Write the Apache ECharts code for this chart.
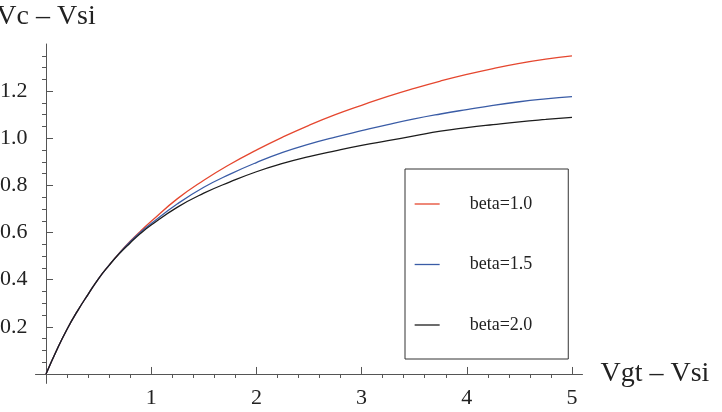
<!DOCTYPE html>
<html>
<head>
<meta charset="utf-8">
<script src="https://cdn.jsdelivr.net/npm/echarts@6/dist/echarts.min.js"></script>
<style>
  html, body { margin: 0; padding: 0; background: #fff; }
  #main { width: 722px; height: 412px; }
</style>
</head>
<body>
<div id="main"></div>
<script>
// values
var xs = [0, 0.1, 0.2, 0.3, 0.4, 0.5, 0.6, 0.7, 0.8, 0.9, 1.0, 1.25, 1.5, 1.75, 2.0, 2.25, 2.5, 2.75, 3.0, 3.25, 3.5, 3.75, 4.0, 4.25, 4.5, 4.75, 5.0];
var beta10 = [0, 0.1, 0.19, 0.268, 0.338, 0.405, 0.462, 0.515, 0.563, 0.607, 0.648, 0.744, 0.822, 0.89, 0.95, 1.005, 1.055, 1.10, 1.14, 1.178, 1.212, 1.243, 1.271, 1.296, 1.318, 1.336, 1.35];
var beta15 = [0, 0.1, 0.19, 0.268, 0.338, 0.405, 0.462, 0.514, 0.561, 0.602, 0.638, 0.722, 0.792, 0.848, 0.897, 0.94, 0.975, 1.005, 1.032, 1.058, 1.082, 1.103, 1.122, 1.14, 1.155, 1.167, 1.177];
var beta20 = [0, 0.1, 0.19, 0.268, 0.338, 0.405, 0.461, 0.512, 0.556, 0.597, 0.632, 0.708, 0.767, 0.815, 0.858, 0.893, 0.922, 0.947, 0.97, 0.99, 1.01, 1.03, 1.045, 1.058, 1.07, 1.08, 1.089];
var seriesNames = ['beta=1.0', 'beta=1.5', 'beta=2.0'];
var xLabels = [1, 2, 3, 4, 5];
var xMinor = [0.2, 0.4, 0.6, 0.8, 1.2, 1.4, 1.6, 1.8, 2.2, 2.4, 2.6, 2.8, 3.2, 3.4, 3.6, 3.8, 4.2, 4.4, 4.6, 4.8];
var yLabels = [0.2, 0.4, 0.6, 0.8, 1.0, 1.2];
var yMinor = [0.05, 0.1, 0.15, 0.25, 0.3, 0.35, 0.45, 0.5, 0.55, 0.65, 0.7, 0.75, 0.85, 0.9, 0.95, 1.05, 1.1, 1.15, 1.25, 1.3, 1.35];

var serif = '"Liberation Serif", "DejaVu Serif", serif';
var colors = ['#e5472f', '#3a5ca6', '#1c1c1c'];

function pairs(ys) {
  return xs.map(function (x, i) { return [x, ys[i]]; });
}

var chart = echarts.init(document.getElementById('main'));

var axisLineStyle = { color: '#555', width: 1 };

var option = {
  animation: false,
  grid: { left: 35.5, right: 139.5, top: 44, bottom: 28.6, containLabel: false, outerBoundsMode: 'none' },
  legend: {
    orient: 'vertical',
    left: 405,
    top: 169,
    padding: [26, 36, 25, 9],
    itemGap: 42.5,
    itemWidth: 25,
    itemHeight: 14,
    borderColor: '#333',
    borderWidth: 1,
    // hide the marker so only the short line is shown
    itemStyle: { color: 'rgba(0,0,0,0)', borderWidth: 0 },
    lineStyle: { width: 1.3 },
    textStyle: { fontFamily: serif, fontSize: 18, color: '#222', padding: [0, 0, 0, 25] },
    data: seriesNames
  },
  xAxis: [{
    type: 'value', min: -0.1, max: 5.1,
    axisLine: { show: true, lineStyle: axisLineStyle },
    axisTick: { show: true, inside: true, length: 7, customValues: xLabels, lineStyle: axisLineStyle },
    axisLabel: { customValues: xLabels, fontFamily: serif, fontSize: 22, color: '#222', margin: 4 },
    splitLine: { show: false },
    name: 'Vgt – Vsi', nameLocation: 'end', nameGap: 18,
    nameTextStyle: { fontFamily: serif, fontSize: 28, color: '#222', align: 'left', verticalAlign: 'middle' }
  }, {
    type: 'value', min: -0.1, max: 5.1,
    axisLine: { show: false },
    axisTick: { show: true, inside: true, length: 4, customValues: xMinor, lineStyle: axisLineStyle },
    axisLabel: { show: false },
    splitLine: { show: false }
  }],
  yAxis: [{
    type: 'value', min: -0.04, max: 1.4,
    axisLine: { show: true, lineStyle: axisLineStyle },
    axisTick: { show: true, inside: true, length: 7, customValues: yLabels, lineStyle: axisLineStyle },
    axisLabel: {
      customValues: yLabels, fontFamily: serif, fontSize: 22, color: '#222', margin: 8,
      formatter: function (v) { return v.toFixed(1); }
    },
    splitLine: { show: false },
    name: 'Vc – Vsi', nameLocation: 'end', nameGap: 13,
    nameTextStyle: { fontFamily: serif, fontSize: 28, color: '#222', align: 'center', verticalAlign: 'bottom' }
  }, {
    type: 'value', min: -0.04, max: 1.4,
    axisLine: { show: false },
    axisTick: { show: true, inside: true, length: 4, customValues: yMinor, lineStyle: axisLineStyle },
    axisLabel: { show: false },
    splitLine: { show: false }
  }],
  series: [beta10, beta15, beta20].map(function (ys, i) {
    return {
      name: seriesNames[i],
      type: 'line',
      xAxisIndex: 0,
      yAxisIndex: 0,
      smooth: true,
      symbol: 'none',
      data: pairs(ys),
      itemStyle: { color: colors[i] },
      lineStyle: { color: colors[i], width: 1.3 }
    };
  })
};

chart.setOption(option);
</script>
</body>
</html>
